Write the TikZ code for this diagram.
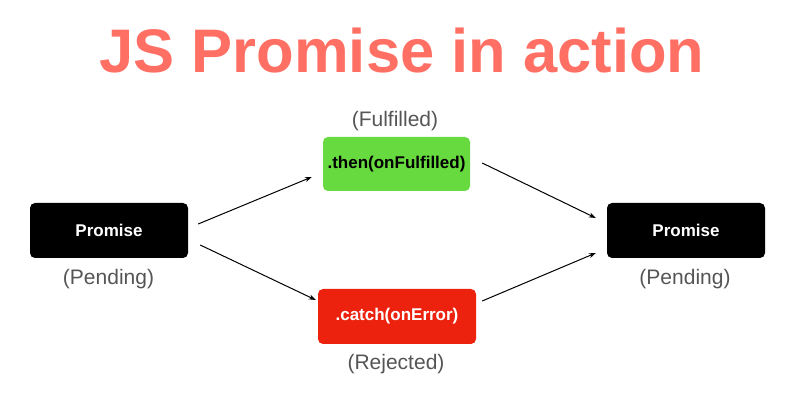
\documentclass[tikz,border=0pt]{standalone}
\usepackage{fontspec}
\setmainfont{Liberation Sans}
\usetikzlibrary{arrows.meta}
\definecolor{titlered}{RGB}{255,111,100}
\definecolor{boxgreen}{RGB}{102,218,62}
\definecolor{boxred}{RGB}{236,34,14}
\definecolor{labelgray}{RGB}{85,85,85}
\tikzset{
  statebox/.style={rounded corners=5pt, minimum width=158pt, minimum height=55pt, inner sep=0pt, font=\fontsize{17}{20}\selectfont\bfseries},
  blackbox/.style={statebox, fill=black, text=white},
  greenbox/.style={statebox, fill=boxgreen, text=black, minimum width=147pt, minimum height=54pt},
  redbox/.style={statebox, fill=boxred, text=white},
  statelabel/.style={inner sep=0pt, text=labelgray, font=\fontsize{21}{24}\selectfont},
  arr/.style={-{Stealth[length=7pt,width=5pt]}, line width=1pt, black},
}
\begin{document}
\begin{tikzpicture}[x=1pt,y=1pt]
\useasboundingbox (0,0) rectangle (800,393);
\node[text=titlered, font=\fontsize{61.5}{68}\selectfont\bfseries, anchor=base, inner sep=0pt] (title) at (402,320) {JS Promise in action};
\node[blackbox] (L) at (109,162.5) {Promise};
\node[greenbox] (G) at (396.5,229) {.then(onFulfilled)};
\node[redbox] (Rd) at (397,76.5) {.catch(onError)};
\node[blackbox] (R) at (686,162.5) {Promise};
\node[statelabel] (Lp) at (108.5,114) {(Pending)};
\node[statelabel] (Gp) at (395,271.5) {(Fulfilled)};
\node[statelabel] (Rdp) at (396,29) {(Rejected)};
\node[statelabel] (Rp) at (685,114) {(Pending)};
\draw[arr] ([shift={(10,6.5)}]L.east) -- ([shift={(-11,-13)}]G.west);
\draw[arr] ([shift={(12,-14.5)}]L.east) -- ([shift={(-2,16.5)}]Rd.west);
\draw[arr] ([shift={(12,1)}]G.east) -- ([shift={(-11,12.5)}]R.west);
\draw[arr] ([shift={(6,15.5)}]Rd.east) -- ([shift={(-11,-22.5)}]R.west);
\end{tikzpicture}
\end{document}
